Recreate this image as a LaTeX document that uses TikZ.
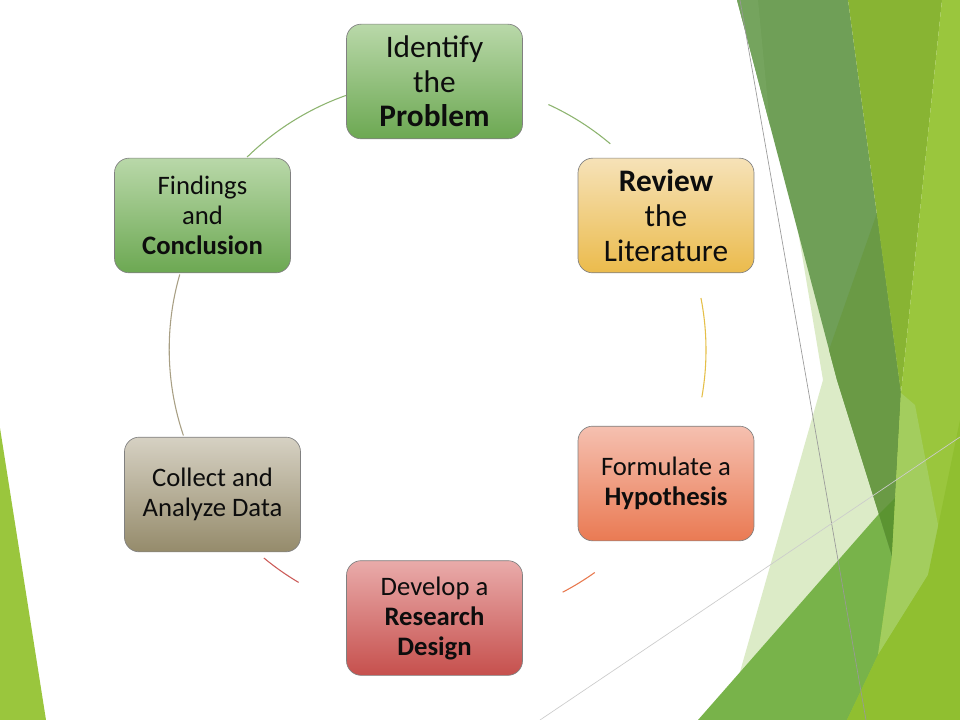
\documentclass[tikz,border=0pt]{standalone}
\usepackage{fontspec}
\setmainfont{Carlito}
\definecolor{grnT}{HTML}{B9D8A9}
\definecolor{grnB}{HTML}{6CA852}
\definecolor{yelT}{HTML}{F6E2B8}
\definecolor{yelB}{HTML}{EBBB4C}
\definecolor{salT}{HTML}{F5C0B0}
\definecolor{salB}{HTML}{EA7A53}
\definecolor{redT}{HTML}{E9ABAA}
\definecolor{redB}{HTML}{C6504D}
\definecolor{tanT}{HTML}{D6D1C3}
\definecolor{tanB}{HTML}{958B6B}
\definecolor{arcG}{HTML}{8DB46F}
\definecolor{arcY}{HTML}{E5BF48}
\definecolor{arcO}{HTML}{E8784D}
\definecolor{arcR}{HTML}{CC5B58}
\definecolor{arcT}{HTML}{A89F84}
\definecolor{medG}{HTML}{78B34A}
\definecolor{paleG}{HTML}{DCEBC7}
\definecolor{bandG}{HTML}{6F9F57}
\definecolor{bandD}{HTML}{6A9A45}
\definecolor{bandL}{HTML}{75A45E}
\definecolor{overG}{HTML}{5B9431}
\definecolor{oliveG}{HTML}{88B433}
\definecolor{limeG}{HTML}{9AC63D}
\definecolor{limeL}{HTML}{A3CD5E}
\definecolor{limeD}{HTML}{90BF30}
\tikzset{
  box/.style={rounded corners=11pt, minimum width=132pt, minimum height=86pt,
    draw=black!50, line width=0.5pt, align=center, text=black!95, inner sep=2pt},
  big/.style={font=\fontsize{23.5}{26}\selectfont},
  small/.style={font=\fontsize{20}{22.5}\selectfont},
  link/.style={line width=0.8pt},
}
\begin{document}
\begin{tikzpicture}[x=0.75pt,y=-0.75pt]
\useasboundingbox (0,0) rectangle (960,720);
\fill[white] (0,0) rectangle (960,720);
% left green wedge
\fill[limeG] (0,428) -- (46,720) -- (0,720) -- cycle;
% right facets
\fill[paleG] (797,225) -- (823,380) -- (732,700) -- (890,540) -- (860,225) -- cycle;
\fill[medG] (698,720) -- (878,515) -- (960,425) -- (960,720) -- cycle;
\fill[bandG] (737,0) -- (848,0) -- (901,393) -- (892,556) -- (837,380) -- cycle;
\fill[bandL] (737,0) -- (758,0) -- (770,125) -- cycle;
\fill[bandD] (877,213) -- (901,393) -- (892,556) -- (837,380) -- (829,350) -- cycle;
\fill[overG] (879,514) -- (895.2,498) -- (892,556) -- cycle;
\fill[oliveG] (848,0) -- (942,0) -- (901,393) -- cycle;
\fill[limeG] (942,0) -- (960,0) -- (960,720) -- (847,720) -- (878,655) -- (892,556) -- (901,393) -- cycle;
\fill[limeL] (901,393) -- (915,405) -- (940,535) -- (928,575) -- (878,655) -- (892,556) -- cycle;
\fill[limeD] (960,420) -- (960,720) -- (847,720) -- (878,655) -- (928,575) -- cycle;
\draw[black!40, line width=0.5pt] (740,0) -- (866,720);
\draw[black!20, line width=0.5pt] (540,720) -- (960,437);
% nodes
\node[box,big,top color=grnT,bottom color=grnB] (ident) at (434.5,81.5) {Identify\\the\\\textbf{Problem}};
\node[box,big,top color=yelT,bottom color=yelB] (review) at (666,215.5) {\textbf{Review}\\the\\Literature};
\node[box,small,top color=salT,bottom color=salB] (formul) at (666,483.5) {Formulate a\\\textbf{Hypothesis}};
\node[box,small,top color=redT,bottom color=redB] (develop) at (434.5,618) {Develop a\\\textbf{Research}\\\textbf{Design}};
\node[box,small,top color=tanT,bottom color=tanB] (collect) at (212.5,494.5) {Collect and\\Analyze Data};
\node[box,small,top color=grnT,bottom color=grnB] (findings) at (202.5,215.5) {Findings\\and\\\textbf{Conclusion}};
% cycle arcs
\coordinate (ctr) at (436,350);
\draw[link,arcG] (ctr) ++(65.4:202.5pt) arc[start angle=65.4, end angle=49.8, radius=202.5pt];
\draw[link,arcY] (ctr) ++(11.1:202.5pt) arc[start angle=11.1, end angle=-10.1, radius=202.5pt];
\draw[link,arcO] (ctr) ++(-54.5:205pt) arc[start angle=-54.5, end angle=-62.4, radius=205pt];
\draw[link,arcR] (ctr) ++(-120.6:202.5pt) arc[start angle=-120.6, end angle=-129.6, radius=202.5pt];
\draw[link,arcT] (ctr) ++(198.7:200pt) arc[start angle=198.7, end angle=163.9, radius=202pt];
\draw[link,arcG] (ctr) ++(134.4:202.5pt) arc[start angle=134.4, end angle=109.5, radius=202.5pt];
\end{tikzpicture}
\end{document}
